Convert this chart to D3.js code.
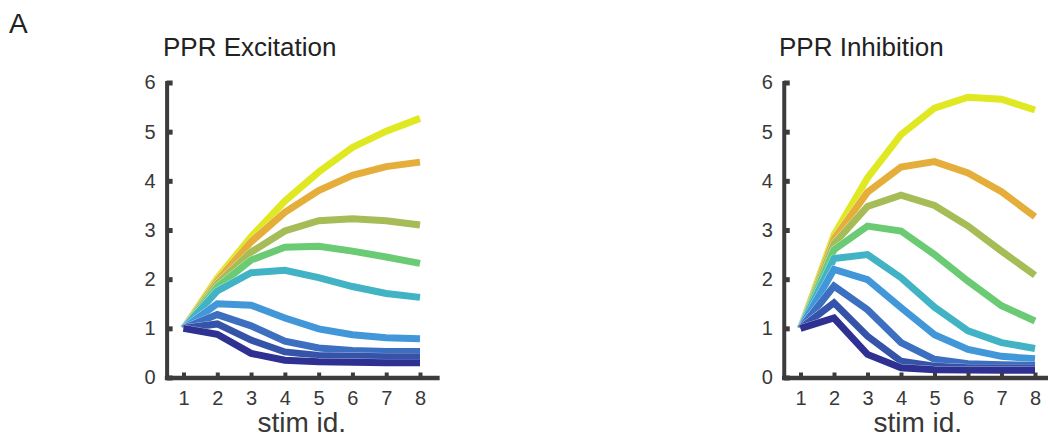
<!DOCTYPE html>
<html>
<head>
<meta charset="utf-8">
<script src="https://cdn.jsdelivr.net/npm/d3@7"></script>
<style>
  html, body { margin: 0; padding: 0; background: #fff; }
  svg { display: block; font-family: "Liberation Sans", Arial, Helvetica, sans-serif; }
</style>
</head>
<body>
<svg id="chart" width="1048" height="439"></svg>
<script>
// ---- data ----
const stimIds = [1, 2, 3, 4, 5, 6, 7, 8];
const yTicks = [0, 1, 2, 3, 4, 5, 6];
const seriesColors = ["#dfe821", "#e5ae3b", "#a6bd57", "#6bcb74", "#42b3c4", "#4297d8", "#3c6fc0", "#3553a8", "#2e3192"];

const excitation = [
  [1, 2.02, 2.86, 3.59, 4.18, 4.68, 5.01, 5.27],
  [1, 1.97, 2.76, 3.36, 3.80, 4.11, 4.29, 4.38],
  [1, 1.91, 2.55, 2.98, 3.19, 3.23, 3.19, 3.10],
  [1, 1.84, 2.39, 2.65, 2.67, 2.57, 2.45, 2.32],
  [1, 1.76, 2.13, 2.18, 2.03, 1.85, 1.71, 1.63],
  [1, 1.50, 1.47, 1.21, 0.99, 0.87, 0.81, 0.79],
  [1, 1.28, 1.05, 0.74, 0.60, 0.55, 0.53, 0.53],
  [1, 1.09, 0.76, 0.52, 0.45, 0.43, 0.42, 0.42],
  [1, 0.88, 0.49, 0.35, 0.32, 0.31, 0.30, 0.30]
];

const inhibition = [
  [1, 2.90, 4.06, 4.94, 5.48, 5.70, 5.66, 5.44],
  [1, 2.82, 3.77, 4.28, 4.39, 4.16, 3.78, 3.27],
  [1, 2.72, 3.48, 3.71, 3.50, 3.08, 2.57, 2.08],
  [1, 2.60, 3.08, 2.98, 2.50, 1.96, 1.46, 1.15],
  [1, 2.42, 2.50, 2.03, 1.43, 0.95, 0.71, 0.59],
  [1, 2.20, 1.99, 1.42, 0.87, 0.57, 0.43, 0.38],
  [1, 1.86, 1.38, 0.71, 0.37, 0.28, 0.26, 0.25],
  [1, 1.52, 0.84, 0.33, 0.23, 0.20, 0.20, 0.20],
  [1, 1.21, 0.47, 0.20, 0.16, 0.15, 0.15, 0.15]
];

const panelTitles = ["PPR Excitation", "PPR Inhibition"];
const xLabel = "stim id.";
const panelLetter = "A";

// ---- drawing ----
const svg = d3.select("#chart");
const axisColor = "#3d3b3c";
const textColor = "#383838";

svg.append("text")
  .attr("x", 9).attr("y", 33)
  .attr("font-size", 28).attr("fill", "#222")
  .text(panelLetter);

const panels = [
  { data: excitation, title: panelTitles[0], x1: 183.5, x8: 420, titleX: 163 },
  { data: inhibition, title: panelTitles[1], x1: 800.5, x8: 1035, titleX: 779 }
];

const yTop = 82.5, yBottom = 377.5;

panels.forEach(p => {
  const step = (p.x8 - p.x1) / 7;
  const x = d3.scaleLinear().domain([0.5, 8.5]).range([p.x1 - step / 2, p.x8 + step / 2]);
  const y = d3.scaleLinear().domain([0, 6]).range([yBottom, yTop]);

  const g = svg.append("g");

  // title
  g.append("text")
    .attr("x", p.titleX).attr("y", 56)
    .attr("font-size", 26).attr("fill", "#222")
    .text(p.title);

  // lines
  const line = d3.line().x((d, i) => x(stimIds[i])).y(d => y(d));
  p.data.forEach((vals, k) => {
    g.append("path")
      .attr("d", line(vals))
      .attr("fill", "none")
      .attr("stroke", "#fff")
      .attr("stroke-width", 7.5)
      .attr("stroke-opacity", 0.8)
      .attr("stroke-linejoin", "miter");
    g.append("path")
      .attr("d", line(vals))
      .attr("fill", "none")
      .attr("stroke", seriesColors[k])
      .attr("stroke-width", 7)
      .attr("stroke-linejoin", "miter");
  });

  // y axis
  const yAxis = d3.axisLeft(y).tickValues(yTicks).tickFormat(d3.format("d"))
    .tickSizeInner(-6).tickSizeOuter(0).tickPadding(11);
  const ya = g.append("g").attr("transform", `translate(${x(0.5)},0)`).call(yAxis);
  ya.select(".domain").attr("stroke", axisColor).attr("stroke-width", 4).attr("stroke-linecap", "square");
  ya.selectAll(".tick line").attr("stroke", axisColor).attr("stroke-width", 5);
  ya.selectAll(".tick text").attr("font-size", 20).attr("fill", textColor)
    .attr("font-family", "Liberation Sans, Arial, sans-serif");

  // x axis
  const xAxis = d3.axisBottom(x).tickValues(stimIds).tickFormat(d3.format("d"))
    .tickSizeInner(-5).tickSizeOuter(0).tickPadding(13);
  const xa = g.append("g").attr("transform", `translate(0,${yBottom})`).call(xAxis);
  xa.select(".domain").attr("stroke", axisColor).attr("stroke-width", 4.5).attr("stroke-linecap", "square");
  xa.selectAll(".tick line").attr("stroke", axisColor).attr("stroke-width", 4);
  xa.selectAll(".tick text").attr("font-size", 20).attr("fill", textColor)
    .attr("font-family", "Liberation Sans, Arial, sans-serif");

  // x label
  g.append("text")
    .attr("x", (x(0.5) + x(8.5)) / 2).attr("y", 432)
    .attr("text-anchor", "middle")
    .attr("font-size", 28).attr("fill", textColor)
    .text(xLabel);
});
</script>
</body>
</html>
